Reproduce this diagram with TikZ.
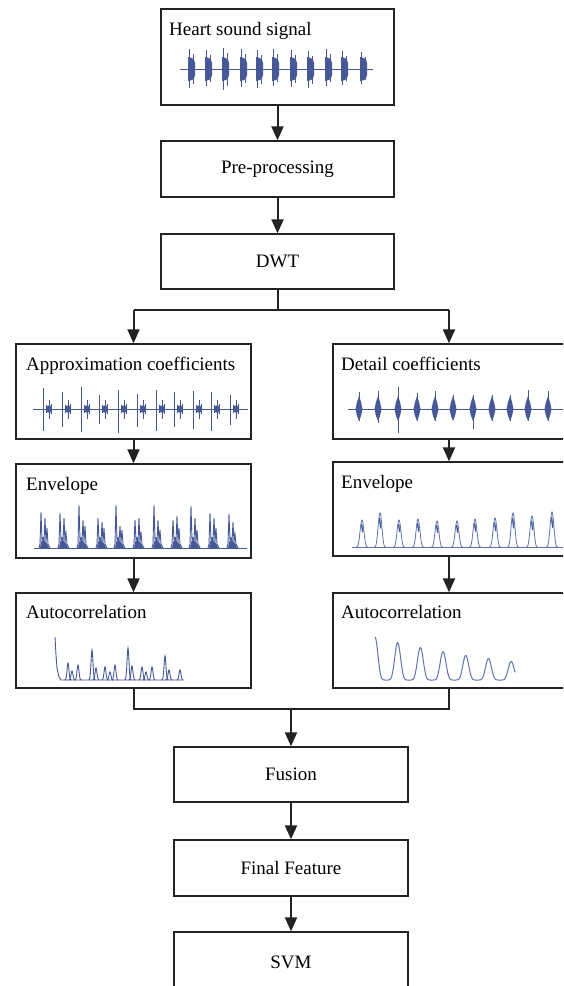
\documentclass[tikz,border=0pt]{standalone}
\usepackage{fontspec}
\setmainfont{Liberation Serif}
\usetikzlibrary{arrows.meta}
\definecolor{sig}{RGB}{70,88,150}
\definecolor{sigl}{RGB}{95,115,175}
\definecolor{boxc}{RGB}{35,35,35}
\begin{document}
\begin{tikzpicture}[x=1pt,y=-1pt,
  box/.style={draw=boxc,line width=1.3pt,inner sep=0pt,font=\fontsize{19}{22}\selectfont},
  ttl/.style={anchor=base west,inner sep=0pt,font=\fontsize{19}{22}\selectfont},
  ln/.style={draw=boxc,line width=2pt},
  arr/.style={draw=boxc,line width=2pt,-{Triangle[width=12pt,length=14pt]}},
  sg/.style={sig,line width=0.9pt},
  sgt/.style={sig,line width=0.7pt}]
\useasboundingbox (0,0) rectangle (563,986);
\fill[white] (0,0) rectangle (563,986);
\clip (0,0) rectangle (563,986);

% boxes
\node[box,minimum width=233pt,minimum height=96pt] (heart) at (277.5,57) {};
\node[box,minimum width=233pt,minimum height=56pt] (pre) at (277.5,169) {Pre-processing};
\node[box,minimum width=233pt,minimum height=55pt] (dwt) at (277.5,261.5) {DWT};
\node[box,minimum width=235pt,minimum height=95pt] (approx) at (133.5,391.5) {};
\node[box,minimum width=235pt,minimum height=94pt] (envL) at (133.5,511) {};
\node[box,minimum width=235pt,minimum height=95pt] (autoL) at (133.5,640.5) {};
\node[box,minimum width=232pt,minimum height=95pt] (detail) at (449,391.5) {};
\node[box,minimum width=232pt,minimum height=94pt] (envR) at (449,509) {};
\node[box,minimum width=232pt,minimum height=95pt] (autoR) at (449,640.5) {};
\node[box,minimum width=234pt,minimum height=55pt] (fusion) at (291,774.5) {Fusion};
\node[box,minimum width=234pt,minimum height=56pt] (final) at (291,868) {Final Feature};
\node[box,minimum width=234pt,minimum height=60pt] (svm) at (291,962) {SVM};

% titles
\node[ttl] (tHeart) at (169,35) {Heart sound signal};
\node[ttl] (tApprox) at (26,370) {Approximation coefficients};
\node[ttl] (tEnvL) at (26,490) {Envelope};
\node[ttl] (tAutoL) at (26,618) {Autocorrelation};
\node[ttl] (tDetail) at (341,370) {Detail coefficients};
\node[ttl] (tEnvR) at (341,488) {Envelope};
\node[ttl] (tAutoR) at (341,618) {Autocorrelation};

% connectors
\coordinate (sp) at (277.5,310);
\coordinate (spL) at (133.5,310);
\coordinate (spR) at (449,310);
\coordinate (jL) at (133.5,709);
\coordinate (jR) at (449,709);
\coordinate (jM) at (291,709);
\draw[arr] (heart.south) -- (pre.north);
\draw[arr] (pre.south) -- (dwt.north);
\draw[ln] (dwt.south) -- (sp);
\draw[ln] (spL) -- (spR);
\draw[arr] (spL) -- (approx.north);
\draw[arr] (spR) -- (detail.north);
\draw[arr] (approx.south) -- (envL.north);
\draw[arr] (envL.south) -- (autoL.north);
\draw[arr] (detail.south) -- (envR.north);
\draw[arr] (envR.south) -- (autoR.north);
\draw[ln] (autoL.south) -- (jL) -- (jR) -- (autoR.south);
\draw[arr] (jM) -- (fusion.north);
\draw[arr] (fusion.south) -- (final.north);
\draw[arr] (final.south) -- (svm.north);

% heart sound signal
\draw[sg] (180,69) -- (373,69);
\foreach \c/\a/\b in {190/20/19,207/19/17,224/21/21,242/20/18,258/19/19,274/20/17,292/19/18,309/18/19,327/20/17,343/18/16,362/17/15}{
  \begin{scope}[shift={(\c,69)}]
    \fill[sig] (-2,-12) -- (2,-11) -- (4,-9) -- (5,-6) -- (5,6) -- (4,9) -- (2,11) -- (-2,12) -- cycle;
    \draw[sg] (-1,-\a) -- (-1,\b);
    \draw[sgt] (3,-\a+5) -- (3,\b-4);
  \end{scope}}

% approximation coefficients
\draw[sg] (33,409) -- (248,409);
\foreach \c/\a/\b in {43/21/22,62/17/18,81/22/23,99/14/15,118/19/24,137/15/18,156/19/22,174/17/18,193/18/20,211/17/22,230/14/16}{
  \begin{scope}[shift={(\c,409)}]
    \draw[sg] (0,-\a) -- (0,\b);
    \draw[sgt] (6,-9) -- (6,10);
    \draw[sgt] (3,-4) -- (3,4);
    \draw[sgt] (8,-5) -- (8,5);
    \fill[sig] (4,-3) -- (7,-4) -- (9,0) -- (7,4) -- (4,3) -- cycle;
  \end{scope}}

% detail coefficients
\draw[sg] (348,409) -- (563,409);
\foreach \c/\a/\b in {359/17/12,378/18/14,398/22/24,417/16/12,435/18/12,453/14/10,473/14/20,492/14/12,510/14/12,528/19/12,548/18/12}{
  \begin{scope}[shift={(\c,409)}]
    \fill[sig] (0,-13) -- (2,-7) -- (3.5,0) -- (2,7) -- (0,12) -- (-2,7) -- (-3.5,0) -- (-2,-7) -- cycle;
    \draw[sg] (0,-\a) -- (0,\b);
  \end{scope}}

% envelope left
\draw[sg] (34,548) -- (247,548);
\foreach \c/\a/\b/\d in {43/36/30/20,62/35/30/15,81/43/28/22,100/30/26/20,118/43/22/18,137/28/30/16,156/43/28/18,175/28/32/20,193/42/30/18,212/35/30/20,231/34/26/14}{
  \begin{scope}[shift={(\c,548)}]
    \fill[sig] (-3,0) -- (-2,-6) -- (0,-8) -- (3,-6) -- (5,-3) -- (6,0) -- cycle;
    \draw[sg] (-4,0) -- (-3,-4) -- (-2,-\a) -- (-1,-8) -- (0,-10) -- (1,-6) -- (2,-\b) -- (3,-6) -- (4,-\d) -- (5,-4) -- (6,-2) -- (7,0);
  \end{scope}}

% envelope right
\draw[sigl,line width=0.8pt] (352,547) -- (563,547);
\foreach \c/\h in {362/27,380/34,399/27,418/28,437/26,457/26,475/28,495/29,513/34,532/31,552/35}{
  \draw[sigl,line width=0.8pt] plot[domain=-6:6,samples=31] ({\c+\x},{547-\h*((1+cos(30*\x))/2)^2});
  \draw[sig,line width=1.4pt] ({\c-0.5},{547-\h*0.85}) -- ({\c+0.8},{547-\h*0.55});}

% autocorrelation left
\draw[sg] (55,637) -- (56,655) -- (57,668) -- (59,677) -- (61,680) -- (183,680);
\foreach \c/\h in {68/17,72/9,78/15,92/30,96/12,105/13,110/8,115/15,128/32,132/14,142/13,146/8,152/13,165/24,169/10,180/10}{
  \draw[sg] plot[domain=-3.5:3.5,samples=21] ({\c+\x},{680-\h*exp(-1*((\x)*(\x))/1.8)});}

% autocorrelation right
\draw[sigl,line width=1pt] plot[domain=0:6.17,samples=250] ({375+22.7*\x},{680-43*exp(-0.14*\x)*((1+cos(360*\x))/2)^3});
\end{tikzpicture}
\end{document}
